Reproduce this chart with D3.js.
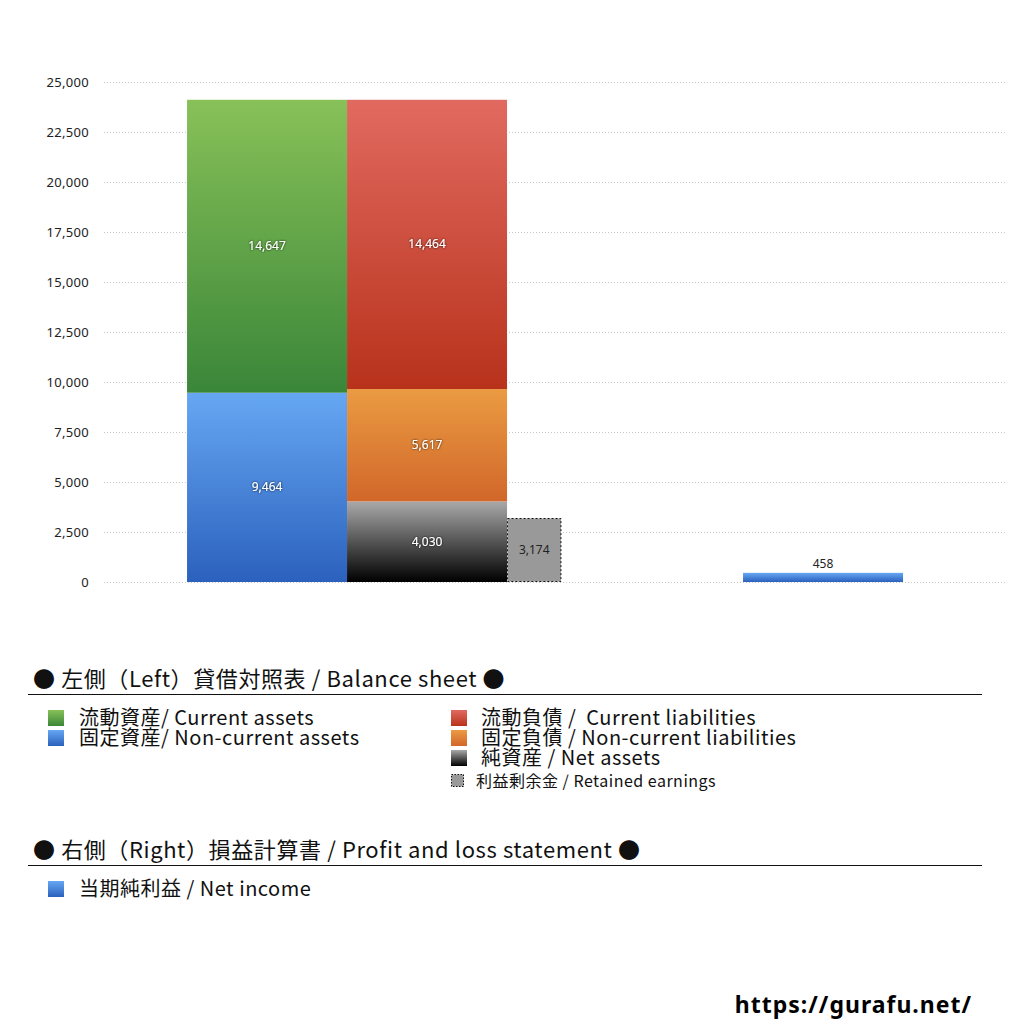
<!DOCTYPE html>
<html><head><meta charset="utf-8">
<script src="https://cdn.jsdelivr.net/npm/d3@7"></script>
<style>
body{margin:0;background:#fff;}
svg text{font-family:"Noto Sans CJK JP","Noto Sans",sans-serif;white-space:pre;}
</style></head>
<body><svg id="c" width="1024" height="1024"></svg>
<script>
// ---- data ----
const assetCategories = ["固定資産", "流動資産"];
const assetValues = [9464, 14647];
const liabilityCategories = ["純資産", "固定負債", "流動負債"];
const liabilityValues = [4030, 5617, 14464];
const retainedEarnings = [3174];
const netIncome = [458];
const yTicks = [0, 2500, 5000, 7500, 10000, 12500, 15000, 17500, 20000, 22500, 25000];

const legendTitleLeft = "● 左側（Left）貸借対照表 / Balance sheet ●";
const legendTitleRight = "● 右側（Right）損益計算書 / Profit and loss statement ●";
const legendLeftCol = ["流動資産/ Current assets", "固定資産/ Non-current assets"];
const legendRightCol = ["流動負債 /  Current liabilities", "固定負債 / Non-current liabilities", "純資産 / Net assets"];
const legendRetained = "利益剰余金 / Retained earnings";
const legendPL = ["当期純利益 / Net income"];
const footer = "https://gurafu.net/";

// ---- layout ----
const svg = d3.select("#c");
const y = d3.scaleLinear().domain([0, 25000]).range([582, 82]);
const x = d3.scaleLinear().domain([0, 5.6375]).range([104, 1006]); // slot units
const slot = x(1) - x(0);
const numFont = "'Noto Sans', 'DejaVu Sans', sans-serif";

const defs = svg.append("defs");
function grad(id, top, bot) {
  const g = defs.append("linearGradient").attr("id", id).attr("x1", 0).attr("y1", 0).attr("x2", 0).attr("y2", 1);
  g.append("stop").attr("offset", "0%").attr("stop-color", top);
  g.append("stop").attr("offset", "100%").attr("stop-color", bot);
}
grad("gGreen", "#88c158", "#3a8639");
grad("gBlue", "#66a7f3", "#2b61bd");
grad("gRed", "#e16a60", "#b8321b");
grad("gOrange", "#ea9b42", "#d1672a");
grad("gBlack", "#a9a9a9", "#000000");
const assetFills = ["url(#gBlue)", "url(#gGreen)"];
const liabFills = ["url(#gBlack)", "url(#gOrange)", "url(#gRed)"];

// grid
svg.append("g").selectAll("line").data(yTicks).join("line")
  .attr("x1", x(0)).attr("x2", x(5.6375))
  .attr("y1", d => Math.round(y(d)) + 0.5).attr("y2", d => Math.round(y(d)) + 0.5)
  .attr("stroke", "#c8c8c8").attr("stroke-width", 1).attr("stroke-dasharray", "1,2");

// y axis labels
const yAxis = d3.axisLeft(y).tickValues(yTicks).tickFormat(d3.format(",")).tickSize(0).tickPadding(0);
const ag = svg.append("g").attr("transform", `translate(89,0)`).call(yAxis);
ag.select(".domain").remove();
ag.selectAll("text").attr("font-size", 13).attr("fill", "#222")
  .attr("letter-spacing", 0.3).style("font-family", numFont);

function stack(vals) {
  let acc = 0;
  return vals.map(v => { const s = { y0: acc, y1: acc + v, v }; acc += v; return s; });
}
const shadow = defs.append("filter").attr("id", "sh");
shadow.append("feDropShadow").attr("dx", 0).attr("dy", 0).attr("stdDeviation", 0.8).attr("flood-color", "#000").attr("flood-opacity", 0.9);

function drawColumn(vals, fills, pos) {
  const st = stack(vals);
  const g = svg.append("g");
  g.selectAll("rect").data(st).join("rect")
    .attr("x", x(pos)).attr("width", slot)
    .attr("y", d => y(d.y1)).attr("height", d => y(d.y0) - y(d.y1))
    .attr("fill", (d, i) => fills[i]);
  g.selectAll("text").data(st).join("text")
    .attr("x", x(pos) + slot / 2).attr("y", d => (y(d.y0) + y(d.y1)) / 2 + 4)
    .attr("text-anchor", "middle").attr("font-size", 12).attr("fill", "#fff")
    .attr("filter", "url(#sh)").style("font-family", numFont)
    .text(d => d3.format(",")(d.v));
}
drawColumn(assetValues, assetFills, 0.519);
drawColumn(liabilityValues, liabFills, 1.519);

// retained earnings
const reW = slot * 0.34;
svg.append("g").selectAll("rect").data(retainedEarnings).join("rect")
  .attr("x", x(2.519) + 0.5).attr("width", reW - 1)
  .attr("y", d => y(d)).attr("height", d => y(0) - y(d) - 0.5)
  .attr("fill", "#999").attr("stroke", "#111").attr("stroke-width", 1).attr("stroke-dasharray", "2,2");
svg.append("g").selectAll("text").data(retainedEarnings).join("text")
  .attr("x", x(2.519) + reW / 2).attr("y", d => (y(d) + y(0)) / 2 + 4)
  .attr("text-anchor", "middle").attr("font-size", 12).attr("fill", "#222")
  .style("font-family", numFont)
  .text(d => d3.format(",")(d));

// net income
svg.append("g").selectAll("rect").data(netIncome).join("rect")
  .attr("x", x(3.994)).attr("width", slot)
  .attr("y", d => y(d)).attr("height", d => y(0) - y(d))
  .attr("fill", "url(#gBlue)");
svg.append("g").selectAll("text").data(netIncome).join("text")
  .attr("x", x(3.994) + slot / 2).attr("y", d => y(d) - 5)
  .attr("text-anchor", "middle").attr("font-size", 12).attr("fill", "#222")
  .style("font-family", numFont)
  .text(d => d3.format(",")(d));

// ---- legend ----
const lg = svg.append("g");
function title(txt, ty, ly) {
  lg.append("text").attr("x", 33).attr("y", ty).attr("font-size", 22).attr("letter-spacing", 0.6)
    .attr("fill", "#111").text(txt);
  lg.append("line").attr("x1", 28).attr("x2", 982).attr("y1", ly).attr("y2", ly).attr("stroke", "#111").attr("stroke-width", 1);
}
title(legendTitleLeft, 687, 694.5);
title(legendTitleRight, 858, 865.5);

function items(list, fills, sx, tx, y0, dy) {
  list.forEach((t, i) => {
    const cy = y0 + i * dy;
    lg.append("rect").attr("x", sx).attr("y", cy - 8).attr("width", 16).attr("height", 16).attr("fill", fills[i]);
    lg.append("text").attr("x", tx).attr("y", cy + 7).attr("font-size", 20).attr("letter-spacing", 0.5)
      .attr("fill", "#111").text(t);
  });
}
items(legendLeftCol, ["url(#gGreen)", "url(#gBlue)"], 48, 79, 718, 20);
items(legendRightCol, ["url(#gRed)", "url(#gOrange)", "url(#gBlack)"], 451, 481, 718, 20);
lg.append("rect").attr("x", 451.5).attr("y", 774.5).attr("width", 12).attr("height", 12)
  .attr("fill", "#999").attr("stroke", "#111").attr("stroke-dasharray", "1.5,1.5");
lg.append("text").attr("x", 476).attr("y", 787).attr("font-size", 16).attr("letter-spacing", 0.5)
  .attr("fill", "#111").text(legendRetained);
items(legendPL, ["url(#gBlue)"], 48, 79, 889, 20);

svg.append("text").attr("x", 972).attr("y", 1013).attr("text-anchor", "end")
  .attr("font-size", 23).attr("font-weight", "bold").attr("letter-spacing", 1).attr("fill", "#000")
  .style("font-family", numFont).text(footer);
</script></body></html>
